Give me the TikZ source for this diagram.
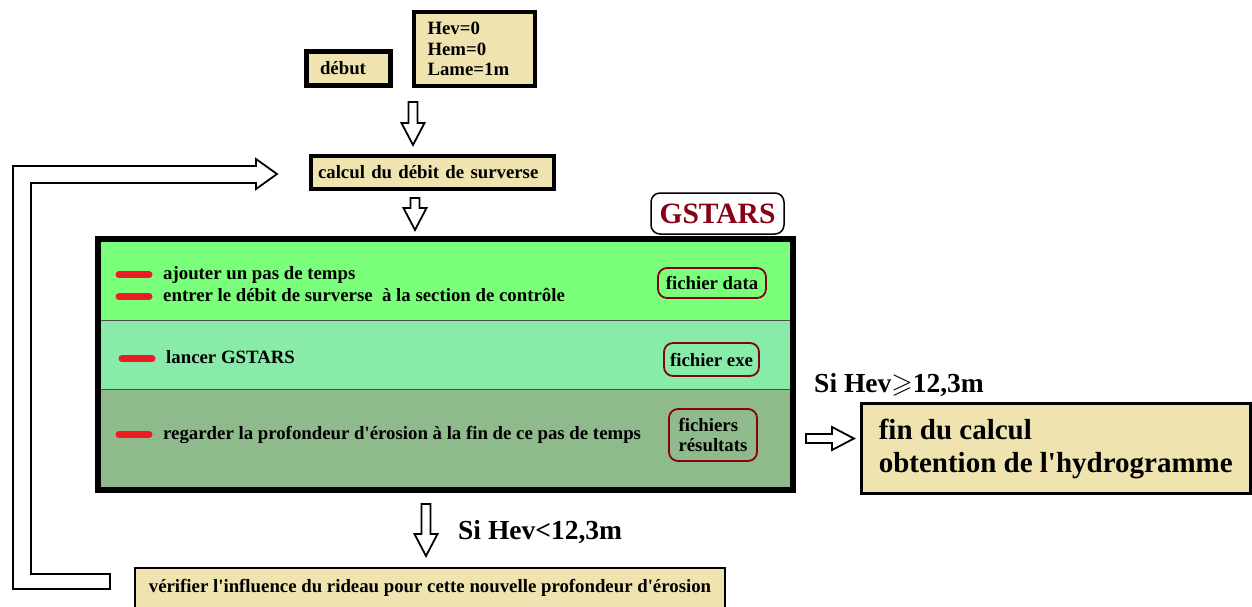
\documentclass[tikz,border=0pt]{standalone}
\usepackage{fontspec}
\setmainfont{Liberation Serif}
\usepackage{amssymb}
\usetikzlibrary{positioning}

\newcommand\q{\textquotesingle}

\tikzset{
  box/.style={draw, fill=paper, line width=4pt, inner sep=0pt},
  band/.style={draw=black!70, line width=0.8pt, minimum width=695pt, inner sep=0pt, outer sep=0pt},
  fichier/.style={draw=darkred, line width=1.8pt, rounded corners=9pt, align=left, inner sep=0pt},
  item/.style={anchor=base west, inner sep=0pt},
  redbar/.style={draw=barred, line width=7pt, line cap=round},
  hollow/.style={draw, fill=white, line width=1.8pt, line join=miter},
  pics/hdown/.style={code={
    \draw[hollow] (-4.5,0) -- (4.5,0) -- (4.5,#1-22) -- (11.5,#1-22) -- (0,#1)
      -- (-11.5,#1-22) -- (-4.5,#1-22) -- cycle;}},
}

\begin{document}
\begin{tikzpicture}[x=1pt, y=-1pt]
    \bfseries\fontsize{18.8}{20.5}\selectfont
    \definecolor{paper}{RGB}{239,228,176};
    \definecolor{green1}{RGB}{122,255,122};
    \definecolor{green2}{RGB}{136,235,170};
    \definecolor{green3}{RGB}{143,186,140};
    \definecolor{darkred}{RGB}{136,0,21};
    \definecolor{barred}{RGB}{237,28,36};
    \path[use as bounding box, fill=white] (0,0) rectangle (1252,606);

    % start and initial values
    \node[box, line width=5pt, minimum width=84pt, minimum height=34pt, inner xsep=13.5pt, text width=57pt, align=left] (start) at (348.5,68.5) {début};
    \node[box, line width=4.5pt, minimum width=121pt, minimum height=74pt, inner xsep=13.5pt, text width=94pt, align=left] (init) at (474.5,49) {Hev=0\\Hem=0\\Lame=1m};
    \pic at (413,102) {hdown=43};

    \node[box, minimum width=243pt, minimum height=33pt, inner xsep=7pt, text width=229pt, align=left] (calc) at (432.5,172.5) {calcul du débit de surverse};
    \pic at (415,198) {hdown=32};

    % GSTARS block
    \node[draw, line width=1.5pt, rounded corners=9pt, minimum width=133pt, minimum height=41pt, text=darkred, font=\fontsize{29.5}{30}\selectfont] (gstars) at (717.5,213.5) {GSTARS};
    \node[band, fill=green1, minimum height=81pt, anchor=north west] (band1) at (97.5,239) {};
    \node[band, fill=green2, minimum height=69pt, below=0pt of band1] (band2) {};
    \node[band, fill=green3, minimum height=101pt, below=0pt of band2] (band3) {};
    \draw[line width=6pt] (band1.north west) rectangle (band3.south east);

    \node[item] (t1) at (163,279) {ajouter un pas de temps};
    \node[item] (t2) at (163,301) {entrer le débit de surverse\ \ à la section de contrôle};
    \node[item] (t3) at (166,363) {lancer GSTARS};
    \node[item] (t4) at (163,439) {regarder la profondeur d\q érosion à la fin de ce pas de temps};
    \foreach \t in {t1,t2,t3,t4}
      \draw[redbar] ([xshift=-14pt]\t.mid west) -- ++(-30,0);

    \node[fichier, minimum width=108pt, minimum height=30pt] (fdata) at (712,283) {fichier data};
    \node[fichier, minimum width=95pt, minimum height=33pt] (fexe) at (711.5,359.5) {fichier exe};
    \node[fichier, minimum width=88pt, minimum height=52pt] (fres) at (713,435) {fichiers\\résultats};

    % end of the computation
    \node[item, font=\fontsize{27.5}{29}\selectfont] (sup) at (814,392) {Si Hev$\geqslant$12,3m};
    \pic[rotate=90] at (806,438.5) {hdown=48};
    \node[box, line width=3pt, minimum width=388.5pt, minimum height=90pt, align=left, font=\fontsize{29}{33}\selectfont] (fin) at (1055.75,448.5) {fin du calcul\\obtention de l\q hydrogramme};

    % next time step
    \pic at (426,504) {hdown=52};
    \node[item, font=\fontsize{27.5}{29}\selectfont] (inf) at (458,539) {Si Hev<12,3m};
    \node[box, line width=2.5pt, minimum width=590pt, minimum height=40pt] (check) at (430,588) {vérifier l\q influence du rideau pour cette nouvelle profondeur d\q érosion};

    % loop back
    \draw[hollow] (110,589) -- (13,589) -- (13,166) -- (256,166) -- (256,159) -- (277,174)
      -- (256,189) -- (256,183) -- (31,183) -- (31,574) -- (110,574) -- cycle;
\end{tikzpicture}
\end{document}
